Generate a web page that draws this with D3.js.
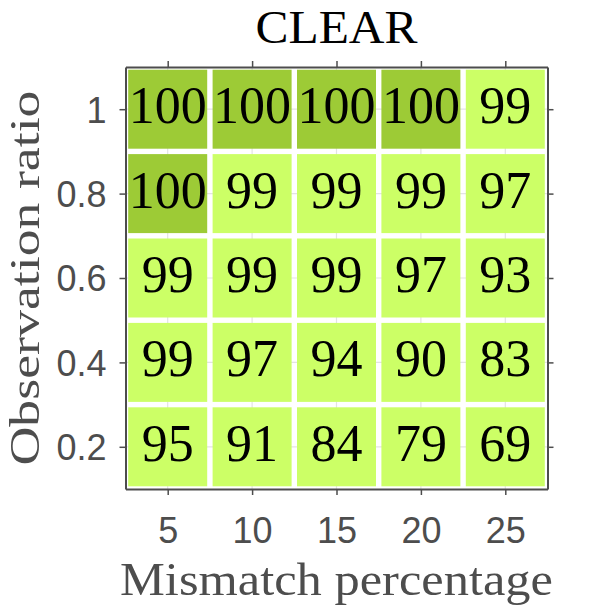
<!DOCTYPE html>
<html>
<head>
<meta charset="utf-8">
<script src="https://cdn.jsdelivr.net/npm/d3@7"></script>
<style>
  html, body { margin: 0; padding: 0; background: #ffffff; }
  svg { display: block; }
</style>
</head>
<body>
<svg id="chart" width="598" height="613"></svg>
<script>
// ---- data ----
const title = "CLEAR";
const xLabel = "Mismatch percentage";
const yLabel = "Observation ratio";
const mismatch = [5, 10, 15, 20, 25];             // x categories
const ratios = [1, 0.8, 0.6, 0.4, 0.2];           // y categories (top to bottom)
const rowValues = [
  [100, 100, 100, 100, 99],   // ratio 1
  [100, 99, 99, 99, 97],      // ratio 0.8
  [99, 99, 99, 97, 93],       // ratio 0.6
  [99, 97, 94, 90, 83],       // ratio 0.4
  [95, 91, 84, 79, 69]        // ratio 0.2
];
const xTickLabels = ["5", "10", "15", "20", "25"];
const yTickLabels = ["1", "0.8", "0.6", "0.4", "0.2"];

// ---- layout ----
const svg = d3.select("#chart");
const L = 125.5, R = 547.5, T = 67, B = 489;
const x = d3.scaleLinear().domain([2.5, 27.5]).range([L, R]);
const y = d3.scaleLinear().domain([0.1, 1.1]).range([B, T]);
const color = d3.scaleThreshold().domain([100]).range(["#ccff66", "#9dcb36"]);
const serif = "'Liberation Serif', 'Times New Roman', serif";
const sans = "'Liberation Sans', Arial, Helvetica, sans-serif";
const axisGray = "#4d4d4d";

const cells = [];
ratios.forEach((r, i) => mismatch.forEach((m, j) => cells.push({ m, r, v: rowValues[i][j] })));

// grid
const grid = svg.append("g");
grid.selectAll("line.vx").data(mismatch).join("line")
  .attr("x1", d => x(d)).attr("x2", d => x(d)).attr("y1", T).attr("y2", B)
  .attr("stroke", "#e3e3e3").attr("stroke-width", 1.2);
grid.selectAll("line.hy").data(ratios).join("line")
  .attr("y1", d => y(d)).attr("y2", d => y(d)).attr("x1", L).attr("x2", R)
  .attr("stroke", "#e3e3e3").attr("stroke-width", 1.2);

// cells
const cw = x(10) - x(5), ch = y(0.8) - y(1);
const inset = 2.7;
svg.append("g").selectAll("rect").data(cells).join("rect")
  .attr("x", d => x(d.m) - cw / 2 + inset)
  .attr("y", d => y(d.r) - ch / 2 + inset)
  .attr("width", cw - 2 * inset)
  .attr("height", ch - 2 * inset)
  .attr("fill", d => color(d.v));

svg.append("g").selectAll("text").data(cells).join("text")
  .attr("x", d => x(d.m))
  .attr("y", d => y(d.r) + 14)
  .attr("text-anchor", "middle")
  .attr("font-family", serif)
  .attr("font-size", 52)
  .attr("fill", "#000")
  .text(d => d.v);

// axes box with outward ticks on all sides
const xAxisB = d3.axisBottom(x).tickValues(mismatch).tickFormat((d, i) => xTickLabels[i]).tickSize(6).tickSizeOuter(0).tickPadding(22);
const xAxisT = d3.axisTop(x).tickValues(mismatch).tickFormat("").tickSize(6).tickSizeOuter(0);
const yAxisL = d3.axisLeft(y).tickValues(ratios).tickFormat((d, i) => yTickLabels[i]).tickSize(6).tickSizeOuter(0).tickPadding(13);
const yAxisR = d3.axisRight(y).tickValues(ratios).tickFormat("").tickSize(6).tickSizeOuter(0);

function styleAxis(g) {
  g.selectAll("path").attr("stroke", axisGray).attr("stroke-width", 2);
  g.selectAll("line").attr("stroke", axisGray).attr("stroke-width", 1.5);
  g.selectAll("text").attr("fill", axisGray).attr("font-family", sans).attr("font-size", 36);
}
const gB = svg.append("g").attr("transform", `translate(0,${B})`).call(xAxisB).call(styleAxis);
gB.selectAll("text").attr("dy", "0.71em");
svg.append("g").attr("transform", `translate(0,${T})`).call(xAxisT).call(styleAxis);
const gL = svg.append("g").attr("transform", `translate(${L},0)`).call(yAxisL).call(styleAxis);
gL.selectAll("text").attr("dy", "0.36em");
svg.append("g").attr("transform", `translate(${R},0)`).call(yAxisR).call(styleAxis);

// title & labels
svg.append("text")
  .attr("x", (L + R) / 2).attr("y", 43)
  .attr("text-anchor", "middle")
  .attr("font-family", serif).attr("font-size", 46)
  .attr("fill", "#000")
  .attr("textLength", 162).attr("lengthAdjust", "spacingAndGlyphs")
  .text(title);

svg.append("text")
  .attr("x", (L + R) / 2).attr("y", 595)
  .attr("text-anchor", "middle")
  .attr("font-family", serif).attr("font-size", 46)
  .attr("fill", axisGray)
  .attr("textLength", 433).attr("lengthAdjust", "spacingAndGlyphs")
  .text(xLabel);

svg.append("text")
  .attr("transform", `translate(39,${(T + B) / 2}) rotate(-90)`)
  .attr("text-anchor", "middle")
  .attr("font-family", serif).attr("font-size", 43)
  .attr("fill", axisGray)
  .attr("textLength", 375).attr("lengthAdjust", "spacingAndGlyphs")
  .text(yLabel);
</script>
</body>
</html>
